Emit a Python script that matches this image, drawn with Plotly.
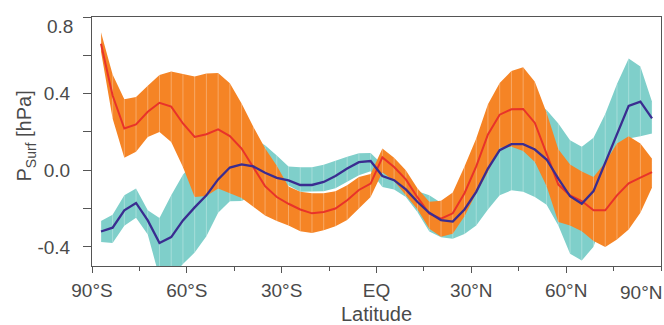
import plotly.graph_objects as go

# Gaussian-grid latitudes (48 rows), south to north
gauss_n = [87.1591, 83.4789, 79.7770, 76.0702, 72.3616, 68.6520, 64.9419, 61.2316,
           57.5210, 53.8103, 50.0995, 46.3886, 42.6777, 38.9667, 35.2557, 31.5447,
           27.8337, 24.1227, 20.4117, 16.7007, 12.9897, 9.2786, 5.5676, 1.8566]
lat = [-g for g in gauss_n] + gauss_n[::-1]

# Ensemble A (orange band, red mean)
red_mean = [0.66, 0.39, 0.218, 0.239, 0.305, 0.352, 0.332, 0.244,
            0.174, 0.188, 0.213, 0.178, 0.113, 0.017, -0.083, -0.14,
            -0.175, -0.205, -0.225, -0.218, -0.2, -0.157, -0.103, -0.07,
            0.067, 0.017, -0.048, -0.142, -0.227, -0.253, -0.225, -0.12,
            0.02, 0.187, 0.29, 0.318, 0.32, 0.247, 0.087, -0.075,
            -0.131, -0.161, -0.209, -0.209, -0.131, -0.068, -0.039, -0.01]
orange_hi = [0.72, 0.50, 0.37, 0.382, 0.441, 0.497, 0.515, 0.501,
             0.49, 0.505, 0.508, 0.454, 0.349, 0.227, 0.115, 0.024,
             -0.085, -0.113, -0.12, -0.12, -0.11, -0.079, -0.035, -0.02,
             0.113, 0.065, 0.0, -0.096, -0.164, -0.159, -0.116, 0.02,
             0.166, 0.345, 0.455, 0.518, 0.537, 0.462, 0.30, 0.109,
             0.03, -0.007, -0.035, 0.04, 0.14, 0.178, 0.14, 0.06]
orange_lo = [0.62, 0.27, 0.065, 0.096, 0.174, 0.20, 0.148, 0.017,
             -0.14, -0.135, -0.095, -0.12, -0.145, -0.192, -0.236, -0.265,
             -0.288, -0.318, -0.328, -0.314, -0.293, -0.26, -0.2, -0.14,
             -0.01, -0.056, -0.13, -0.205, -0.305, -0.347, -0.332, -0.24,
             -0.12, -0.009, 0.117, 0.122, 0.1, 0.043, -0.083, -0.27,
             -0.288, -0.318, -0.37, -0.401, -0.362, -0.31, -0.222, -0.09]

# Ensemble B (teal band, blue mean)
blue_mean = [-0.32, -0.30, -0.209, -0.171, -0.262, -0.38, -0.349, -0.262,
             -0.194, -0.131, -0.048, 0.014, 0.03, 0.02, -0.013, -0.04,
             -0.053, -0.077, -0.077, -0.061, -0.03, 0.009, 0.042, 0.048,
             -0.03, -0.052, -0.1, -0.166, -0.222, -0.26, -0.268, -0.205,
             -0.113, 0.009, 0.105, 0.136, 0.136, 0.108, 0.056, -0.044,
             -0.136, -0.175, -0.109, 0.04, 0.195, 0.336, 0.358, 0.271]
teal_hi = [-0.265, -0.232, -0.131, -0.096, -0.209, -0.25, -0.131, -0.023,
           0.05, 0.09, 0.14, 0.19, 0.20, 0.166, 0.131, 0.077,
           0.02, 0.015, 0.015, 0.028, 0.05, 0.071, 0.089, 0.09,
           0.03, -0.005, -0.06, -0.11, -0.13, -0.17, -0.18, -0.09,
           0.06, 0.2, 0.34, 0.377, 0.385, 0.356, 0.314, 0.244,
           0.157, 0.122, 0.17, 0.293, 0.45, 0.583, 0.541, 0.357]
teal_lo = [-0.375, -0.38, -0.29, -0.248, -0.336, -0.56, -0.56, -0.489,
           -0.43, -0.345, -0.222, -0.162, -0.16, -0.13, -0.10, -0.08,
           -0.08, -0.113, -0.112, -0.11, -0.094, -0.061, -0.026, -0.005,
           -0.087, -0.1, -0.14, -0.22, -0.32, -0.35, -0.358, -0.333,
           -0.288, -0.205, -0.131, -0.105, -0.113, -0.14, -0.18, -0.288,
           -0.436, -0.471, -0.40, -0.22, -0.06, 0.166, 0.178, 0.192]

# labelled ticks; the outermost labels are pulled inside the figure edge
x_ticks = [-90, -60, -30, 0, 30, 60]
x_labels = ["90°S", "60°S", "30°S", "EQ", "30°N", "60°N"]
x_edge_tick, x_edge_label = 90, "90°N"
x_minor = [-75, -45, -15, 15, 45, 75, 90]
y_ticks = [-0.4, 0.0, 0.4]
y_labels = ["-0.4", "0.0", "0.4"]
y_edge_tick, y_edge_label = 0.8, "0.8"
y_minor = [-0.2, 0.2, 0.6, 0.8]

ORANGE = "#F58425"
TEAL = "#7FCFCA"
RED = "#E8332A"
BLUE = "#3A2C90"
INK = "#4a4a4a"
AXIS = "#555555"
FONT = "Liberation Sans"


def band(upper, lower, color):
    return go.Scatter(x=lat + lat[::-1], y=upper + lower[::-1], fill="toself",
                      fillcolor=color, mode="lines", line=dict(width=0),
                      hoverinfo="skip", showlegend=False)


def ribs(upper, lower):
    xs, ys = [], []
    for x, hi, lo in zip(lat, upper, lower):
        xs += [x, x, None]
        ys += [lo, hi, None]
    return go.Scatter(x=xs, y=ys, mode="lines",
                      line=dict(color="rgba(255,255,255,0.3)", width=1),
                      hoverinfo="skip", showlegend=False)


fig = go.Figure()
fig.add_trace(band(teal_hi, teal_lo, TEAL))
fig.add_trace(ribs(teal_hi, teal_lo))
fig.add_trace(band(orange_hi, orange_lo, ORANGE))
fig.add_trace(ribs(orange_hi, orange_lo))
fig.add_trace(go.Scatter(x=lat, y=red_mean, mode="lines",
                         line=dict(color=RED, width=2), showlegend=False))
fig.add_trace(go.Scatter(x=lat, y=blue_mean, mode="lines",
                         line=dict(color=BLUE, width=2.3), showlegend=False))

label_font = dict(family=FONT, size=19, color=INK)
fig.add_annotation(x=0, xref="paper", xanchor="right", xshift=-17,
                   y=y_edge_tick, yref="y", yanchor="top", yshift=3,
                   text=y_edge_label, showarrow=False, font=label_font)
fig.add_annotation(x=x_edge_tick, xref="x", xanchor="right", xshift=3,
                   y=0, yref="paper", yanchor="top", yshift=-14,
                   text=x_edge_label, showarrow=False, font=label_font)
# y-axis title
fig.add_annotation(x=0, xref="paper", xanchor="center", xshift=-66,
                   y=0.52, yref="paper", yanchor="middle",
                   text="P<sub>Surf</sub> [hPa]", textangle=-90,
                   showarrow=False, font=dict(family=FONT, size=20, color=INK))

fig.update_layout(
    width=664, height=325,
    margin=dict(l=92, r=3, t=17, b=59),
    paper_bgcolor="white", plot_bgcolor="white",
    font=dict(family=FONT, size=19, color=INK),
    xaxis=dict(range=[-90, 90], tickmode="array", tickvals=x_ticks,
               ticktext=x_labels, ticks="outside", ticklen=6, tickwidth=1,
               tickcolor=AXIS, showline=True, linecolor=AXIS, linewidth=1,
               mirror=True, showgrid=False, zeroline=False,
               ticklabelstandoff=1,
               minor=dict(tickvals=x_minor, ticks="outside",
                          ticklen=4, tickcolor=AXIS, showgrid=False),
               title=dict(text="Latitude", font=dict(size=20), standoff=8)),
    yaxis=dict(range=[-0.5, 0.8], tickmode="array", tickvals=y_ticks,
               ticktext=y_labels, ticks="outside", ticklen=8, tickwidth=1,
               tickcolor=AXIS, showline=True, linecolor=AXIS, linewidth=1,
               mirror=True, showgrid=False, zeroline=False,
               ticklabelstandoff=9,
               minor=dict(tickvals=y_minor, ticks="outside",
                          ticklen=8, tickcolor=AXIS, showgrid=False)),
)

fig.write_html("out.html")
